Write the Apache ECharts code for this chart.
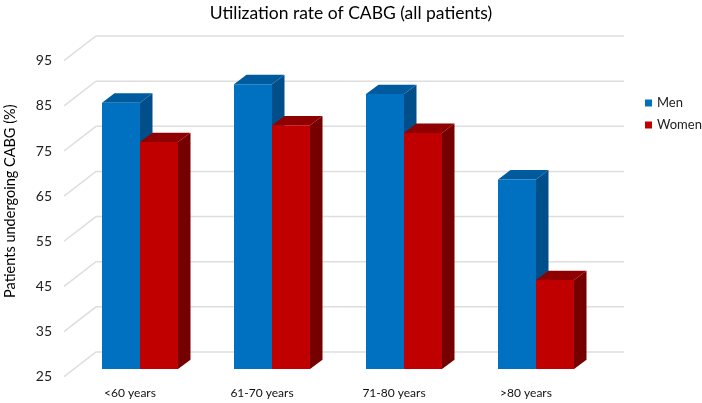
<!DOCTYPE html>
<html>
<head>
<meta charset="utf-8">
<style>html,body{margin:0;padding:0;background:#fff}#c{width:702px;height:403px}</style>
<script src="https://cdn.jsdelivr.net/npm/echarts@6/dist/echarts.min.js"></script>
</head>
<body>
<div id="c"></div>
<script>
const categories = ['<60 years', '61-70 years', '71-80 years', '>80 years'];
const men = [84, 88.1, 85.9, 67];
const women = [75.3, 79, 77.3, 44.7];
const tickValues = [25, 35, 45, 55, 65, 75, 85, 95];

const FONT = 'Lato, "Open Sans", sans-serif';
const BACK = [32, -24.7];      // depth of the back wall
const NEAR = [10, -7.7];       // front face of bars relative to the front plane
const DEPTH = [12.5, -9.3];    // depth of each bar
const BAR_RATIO = 38 / 132;

function barSeries(name, values, side, front, top, flank) {
  return {
    name, type: 'custom', clip: false, z: 3 + side,
    itemStyle: { color: front },
    encode: { x: 0, y: 1 },
    data: values.map((v, i) => [i, v]),
    renderItem(params, api) {
      const i = api.value(0), v = api.value(1);
      const t = api.coord([i, v]), b = api.coord([i, 25]);
      const w = api.size([1, 0])[0] * BAR_RATIO;
      const x0 = t[0] + NEAR[0] + (side - 1) * w, x1 = x0 + w;
      const yt = t[1] + NEAR[1], yb = b[1] + NEAR[1];
      const dx = DEPTH[0], dy = DEPTH[1];
      return {
        type: 'group',
        children: [
          { type: 'polygon', shape: { points: [[x1, yt], [x1 + dx, yt + dy], [x1 + dx, yb + dy], [x1, yb]] }, style: { fill: flank } },
          { type: 'polygon', shape: { points: [[x0, yt], [x0 + dx, yt + dy], [x1 + dx, yt + dy], [x1, yt]] }, style: { fill: top } },
          { type: 'rect', shape: { x: x0, y: yt, width: w, height: yb - yt }, style: { fill: front } }
        ]
      };
    }
  };
}

const chart = echarts.init(document.getElementById('c'), null, { renderer: 'canvas' });
chart.setOption({
  animation: false,
  backgroundColor: '#fff',
  title: {
    text: 'Utilization rate of CABG (all patients)',
    left: 'center', top: -1,
    textStyle: { fontFamily: FONT, fontSize: 17.5, fontWeight: 'normal', color: '#000' }
  },
  legend: {
    data: ['Men', 'Women'], orient: 'vertical', left: 640, top: 90, padding: 5,
    icon: 'rect', itemWidth: 7, itemHeight: 7, itemGap: 6,
    textStyle: { fontFamily: FONT, fontSize: 13, color: '#222', lineHeight: 16 }
  },
  grid: { left: 64, right: 110, top: 60.7, bottom: 26.3, outerBoundsMode: 'none' },
  xAxis: {
    type: 'category', data: categories,
    axisLine: { show: false }, axisTick: { show: false }, splitLine: { show: false },
    axisLabel: { fontFamily: FONT, fontSize: 12, color: '#111', margin: 10 }
  },
  yAxis: {
    type: 'value', min: 25, max: 95, interval: 5,
    name: 'Patients undergoing CABG (%)', nameLocation: 'middle', nameGap: 46,
    nameTextStyle: { fontFamily: FONT, fontSize: 14.5, color: '#000', padding: [0, 0, 0, 35] },
    axisLine: { show: false }, axisTick: { show: false }, splitLine: { show: false },
    axisLabel: {
      fontFamily: FONT, fontSize: 14, color: '#222', margin: 12,
      formatter: v => tickValues.includes(v) ? String(v) : ''
    }
  },
  series: [
    {
      name: 'walls', type: 'custom', clip: false, z: 1, silent: true,
      encode: { x: 0, y: 1 },
      data: tickValues.map(v => [0, v]),
      renderItem(params, api) {
        const p = api.coord([0, api.value(1)]);
        const band = api.size([1, 0])[0];
        const x0 = p[0] - band / 2, y0 = p[1];
        const xb = x0 + BACK[0], yb = y0 + BACK[1];
        const style = { stroke: '#dedede', lineWidth: 1.5, fill: 'none' };
        return {
          type: 'polyline',
          shape: { points: [[x0, y0], [xb, yb], [xb + band * categories.length, yb]] },
          style
        };
      }
    },
    barSeries('Men', men, 0, '#0070c0', '#005a9e', '#004f8a'),
    barSeries('Women', women, 1, '#c00000', '#8f0000', '#760000')
  ]
});
</script>
</body>
</html>
